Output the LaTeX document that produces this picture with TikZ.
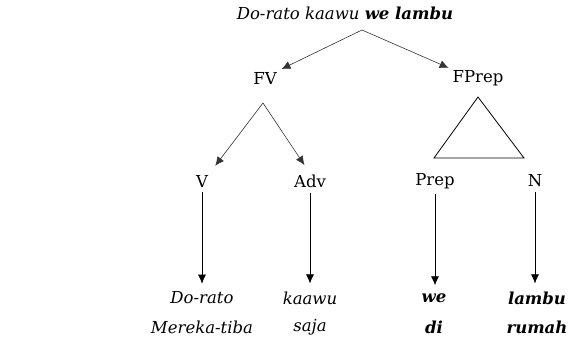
\documentclass[tikz,border=0pt]{standalone}
\usepackage{fontspec}
\setmainfont{DejaVu Serif}
\usetikzlibrary{arrows.meta}

\begin{document}
\begin{tikzpicture}[x=1pt, y=-1pt,
        every node/.style={font=\fontsize{16.5}{19}\selectfont, inner sep=1pt},
        word/.style={font=\fontsize{16.5}{19}\selectfont\itshape},
        bword/.style={font=\fontsize{16.5}{19}\selectfont\itshape\bfseries},
        branch/.style={-{Latex[length=9pt, width=8pt]}, semithick, black!80},
        drop/.style={-{Latex[length=9pt, width=8pt]}, semithick}]
    \useasboundingbox (0, 0) rectangle (571, 347);
    % sentence and its two phrases
    \node (sent) at (345, 13) {\itshape Do-rato kaawu \textbf{we lambu}};
    \coordinate (top) at (362, 30);
    \node (fv) at (265, 78) {FV};
    \node (fprep) at (478, 78) {FPrep};
    \draw[branch, shorten >=4pt] (top) -- (fv.north east);
    \draw[branch, shorten >=3pt] (top) -- (fprep.north west);
    % verb phrase
    \coordinate (fvtop) at (263, 103);
    \node (v) at (202, 181) {V};
    \node (adv) at (310, 181) {Adv};
    \draw[branch, shorten >=10pt] (fvtop) -- (v.north east);
    \draw[branch, shorten >=10pt] (fvtop) -- (adv.north);
    % prepositional phrase
    \draw[thick] (478, 97) -- (434, 158) -- (524, 158) -- cycle;
    \node (prep) at (435, 181) {Prep};
    \node (n) at (535, 181) {N};
    % words and glosses
    \path
        \foreach \x/\nm/\st/\w/\g in {
            202/dorato/word/Do-rato/Mereka-tiba,
            310/kaawu/word/kaawu/saja,
            434/we/bword/we/di,
            537/lambu/bword/lambu/rumah
        } {
            (\x, 298) node[\st] (\nm) {\w}
            (\x, 327) node[\st] (\nm-g) {\g}
        };
    \foreach \a/\b in {v/dorato, adv/kaawu, prep/we, n/lambu}
        \draw[drop, shorten <=4pt, shorten >=7pt] (\a.south) -- (\a.south |- \b.north);
\end{tikzpicture}
\end{document}
